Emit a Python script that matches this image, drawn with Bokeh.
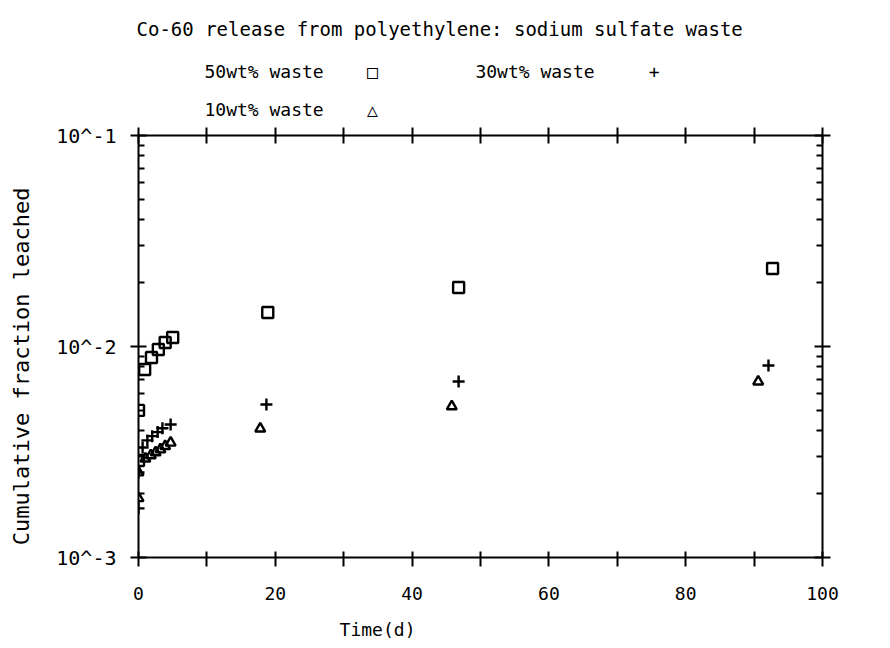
from bokeh.plotting import figure
from bokeh.models import FixedTicker, LinearAxis, LogAxis, Range1d, Title
from bokeh.embed import file_html
from bokeh.resources import INLINE

title_text = "Co-60 release from polyethylene: sodium sulfate waste"
x_label = "Time(d)"
y_label = "Cumulative fraction leached"
series_names = ["50wt% waste", "30wt% waste", "10wt% waste"]

x_ticks = [0, 20, 40, 60, 80, 100]
x_minor = [10, 30, 50, 70, 90]
y_ticks = [0.001, 0.01, 0.1]
y_tick_labels = ["10^-3", "10^-2", "10^-1"]

t50 = [0, 0, 0.9, 1.9, 2.9, 3.9, 5.0, 18.9, 46.8, 92.7]
f50 = [0.00288, 0.00498, 0.00778, 0.00887, 0.00968, 0.01045, 0.01104, 0.01449, 0.01905, 0.02344]

t30 = [0, 0, 0.6, 1.3, 2.0, 2.8, 3.5, 4.7, 18.7, 46.8, 92.1]
f30 = [0.00171, 0.00253, 0.00332, 0.00359, 0.00376, 0.00393, 0.00410, 0.00427, 0.00531, 0.00682, 0.00813]

t10 = [0, 0, 1.0, 1.8, 2.5, 3.2, 3.9, 4.7, 17.8, 45.8, 90.6]
f10 = [0.00191, 0.00253, 0.00294, 0.00305, 0.00315, 0.00325, 0.00337, 0.00350, 0.00408, 0.00520, 0.00682]

FONT = "DejaVu Sans Mono"
NB = "\u00a0"

y_minor = [m * d for d in [0.001, 0.01] for m in range(2, 10)]

LEFT, RIGHT, TOP, BOTTOM = 138, 68, 135, 91
W, H = 890, 648

p = figure(width=W, height=H, output_backend="svg", toolbar_location=None, title=None,
           y_axis_type="log", x_range=Range1d(0, 100), y_range=Range1d(0.001, 0.1),
           x_axis_location=None, y_axis_location=None,
           min_border_left=LEFT, min_border_right=RIGHT, min_border_top=TOP, min_border_bottom=BOTTOM)
p.outline_line_color = None
p.xgrid.visible = False
p.ygrid.visible = False
p.background_fill_color = "white"
p.border_fill_color = "white"


def style_axis(ax, labels=True, size="18px"):
    ax.axis_line_color = "black"
    ax.axis_line_width = 2
    ax.major_tick_line_color = "black"
    ax.major_tick_line_width = 2
    ax.minor_tick_line_color = "black"
    ax.minor_tick_line_width = 2
    ax.major_label_text_font = FONT
    ax.major_label_text_font_size = size
    ax.major_label_text_color = "black"
    if not labels:
        ax.major_label_text_alpha = 0
        ax.major_label_text_font_size = "6px"
        ax.major_label_standoff = 0


xb = LinearAxis(ticker=FixedTicker(ticks=x_ticks, minor_ticks=x_minor))
style_axis(xb)
xb.major_tick_in = 6
xb.major_tick_out = 9
xb.minor_tick_in = 6
xb.minor_tick_out = 9
xb.major_label_standoff = 20
xb.axis_label = x_label + NB * 19
xb.axis_label_text_font = FONT
xb.axis_label_text_font_size = "18px"
xb.axis_label_text_font_style = "normal"
xb.axis_label_text_color = "black"
xb.axis_label_standoff = 16
p.add_layout(xb, "below")

xt = LinearAxis(ticker=FixedTicker(ticks=x_ticks, minor_ticks=x_minor))
style_axis(xt, labels=False)
xt.major_tick_in = 8
xt.major_tick_out = 8
xt.minor_tick_in = 8
xt.minor_tick_out = 8
p.add_layout(xt, "above")

# empty spacer axis (no ticks, no line) to lift the legend rows
spacer = LinearAxis(ticker=FixedTicker(ticks=[]))
spacer.axis_line_color = None
spacer.major_tick_line_color = None
spacer.minor_tick_line_color = None
spacer.major_tick_in = 0
spacer.major_tick_out = 13
spacer.minor_tick_out = 0
spacer.major_label_standoff = 0
p.add_layout(spacer, "above")

yl = LogAxis(ticker=FixedTicker(ticks=y_ticks, minor_ticks=y_minor))
style_axis(yl, size="20px")
yl.major_label_overrides = {v: s for v, s in zip(y_ticks, y_tick_labels)}
yl.major_tick_in = 8
yl.major_tick_out = 8
yl.minor_tick_in = 6
yl.minor_tick_out = 0
yl.major_label_standoff = 14
yl.axis_label = y_label + NB * 3
yl.axis_label_text_font = FONT
yl.axis_label_text_font_size = "22px"
yl.axis_label_text_font_style = "normal"
yl.axis_label_text_color = "black"
yl.axis_label_standoff = 19
p.add_layout(yl, "left")

yr = LogAxis(ticker=FixedTicker(ticks=y_ticks, minor_ticks=y_minor))
style_axis(yr, labels=False)
yr.major_tick_in = 8
yr.major_tick_out = 8
yr.minor_tick_in = 6
yr.minor_tick_out = 0
p.add_layout(yr, "right")

p.scatter(t50, f50, marker="square", size=11, fill_color=None, line_color="black", line_width=2.4)
p.scatter(t30, f30, marker="cross", size=12, line_color="black", line_width=2.4)
p.scatter(t10, f10, marker="triangle", size=10, fill_color=None, line_color="black", line_width=2.4)

row1 = series_names[0] + NB * 4 + "\u25a1" + NB * 9 + series_names[1] + NB * 5 + "+"
row2 = series_names[2] + NB * 4 + "\u25b3"


def add_title(text, size, standoff, offset, align="left"):
    p.add_layout(Title(text=text, text_font=FONT, text_font_size=size, text_font_style="normal",
                       text_color="black", align=align, offset=offset, standoff=standoff), "above")


add_title(row2, "18px", 15, 204 - LEFT)
add_title(row1, "18px", 16, 204 - LEFT)
add_title(title_text, "19px", 21, 136 - LEFT)

open("out.html", "w").write(file_html(p, INLINE))
